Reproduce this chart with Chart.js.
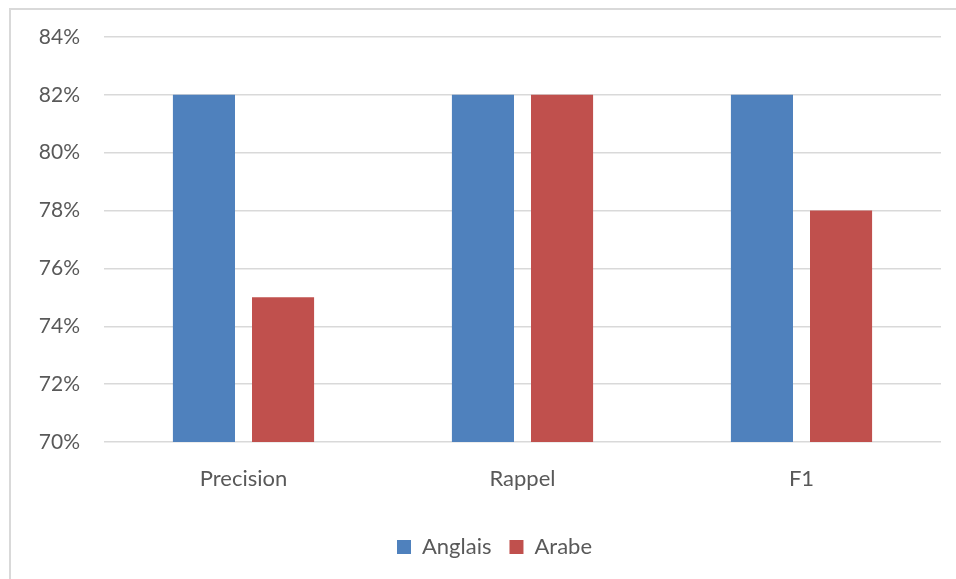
<!DOCTYPE html>
<html>
<head>
<meta charset="utf-8">
<script src="https://cdn.jsdelivr.net/npm/chart.js@4/dist/chart.umd.min.js"></script>
<style>
  html, body { margin: 0; padding: 0; background: #fff; overflow: hidden; }
  #wrap { position: relative; width: 956px; height: 579px; }
  #frame {
    position: absolute; left: 9px; top: 8px; width: 970px; height: 600px;
    border: 2px solid #d9d9d9; box-sizing: border-box;
  }
  canvas { position: absolute; left: 0; top: 0; }
</style>
</head>
<body>
<div id="wrap">
  <div id="frame"></div>
  <canvas id="chartScores" width="956" height="579"></canvas>
</div>
<script>
// scores par langue
const categories = ['Precision', 'Rappel', 'F1'];
const anglais = [82, 82, 82];
const arabe = [75, 82, 78];
const yMin = 70;
const yMax = 84;
const yStep = 2;

const textColor = '#595959';
const fontFamily = 'Lato, "Open Sans", sans-serif';

// nudge the legend so it sits centred under the bars
const legendShift = {
  id: 'legendShift',
  afterLayout(chart) {
    if (chart.legend) {
      chart.legend.left += 24;
      chart.legend.right += 24;
    }
  }
};

new Chart(document.getElementById('chartScores'), {
  type: 'bar',
  data: {
    labels: categories,
    datasets: [
      {
        label: 'Anglais',
        data: anglais,
        backgroundColor: '#4f81bd',
        barPercentage: 0.785,
        categoryPercentage: 0.567
      },
      {
        label: 'Arabe',
        data: arabe,
        backgroundColor: '#c0504d',
        barPercentage: 0.785,
        categoryPercentage: 0.567
      }
    ]
  },
  plugins: [legendShift],
  options: {
    responsive: false,
    animation: false,
    layout: { padding: { top: 37, right: 15, bottom: 11, left: 0 } },
    plugins: {
      tooltip: { enabled: false },
      legend: {
        position: 'bottom',
        labels: {
          color: textColor,
          font: { family: fontFamily, size: 22 },
          boxWidth: 14,
          boxHeight: 14,
          padding: 18
        }
      }
    },
    scales: {
      x: {
        grid: { display: false },
        border: { display: false },
        ticks: {
          color: textColor,
          font: { family: fontFamily, size: 22 },
          padding: 16
        },
        afterFit: s => { s.height = 76; }
      },
      y: {
        min: yMin,
        max: yMax,
        border: { display: false },
        grid: { color: '#d9d9d9', lineWidth: 1.5, drawTicks: false },
        ticks: {
          stepSize: yStep,
          color: textColor,
          font: { family: fontFamily, size: 21 },
          padding: 24,
          callback: v => v + '%'
        },
        afterFit: s => { s.width = 104; }
      }
    }
  }
});
</script>
</body>
</html>
